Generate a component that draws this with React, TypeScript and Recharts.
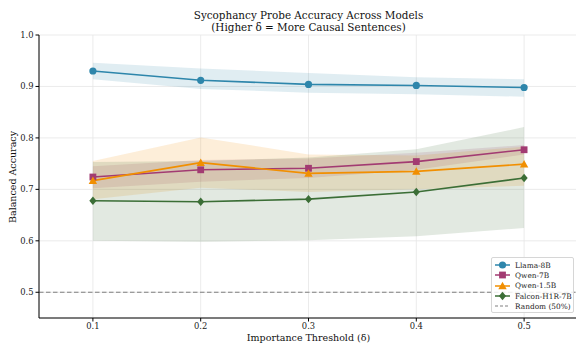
import React from 'react'
import {
  ComposedChart, Area, Line, XAxis, YAxis, CartesianGrid, ReferenceLine,
} from 'recharts'

const thresholds = [0.1, 0.2, 0.3, 0.4, 0.5]
const yTicks = [0.5, 0.6, 0.7, 0.8, 0.9, 1.0]

const llama = [0.930, 0.912, 0.904, 0.902, 0.898]
const llamaLo = [0.914, 0.895, 0.888, 0.885, 0.880]
const llamaHi = [0.946, 0.935, 0.926, 0.918, 0.914]

const qwen7 = [0.724, 0.738, 0.741, 0.754, 0.777]
const qwen7Lo = [0.702, 0.715, 0.722, 0.738, 0.768]
const qwen7Hi = [0.745, 0.757, 0.760, 0.771, 0.786]

const qwen15 = [0.717, 0.752, 0.731, 0.735, 0.749]
const qwen15Lo = [0.681, 0.703, 0.695, 0.700, 0.707]
const qwen15Hi = [0.755, 0.801, 0.768, 0.766, 0.783]

const falcon = [0.678, 0.676, 0.681, 0.695, 0.722]
const falconLo = [0.600, 0.598, 0.601, 0.609, 0.625]
const falconHi = [0.753, 0.755, 0.762, 0.778, 0.821]

const randomLevel = 0.5

type Shape = 'circle' | 'square' | 'triangle' | 'diamond'

const series: { key: string; name: string; color: string; shape: Shape }[] = [
  { key: 'llama', name: 'Llama-8B', color: '#2E86AB', shape: 'circle' },
  { key: 'qwen7', name: 'Qwen-7B', color: '#A23B72', shape: 'square' },
  { key: 'qwen15', name: 'Qwen-1.5B', color: '#F18F01', shape: 'triangle' },
  { key: 'falcon', name: 'Falcon-H1R-7B', color: '#3B6E36', shape: 'diamond' },
]

const data = thresholds.map((t, i) => ({
  t,
  llama: llama[i], llamaBand: [llamaLo[i], llamaHi[i]],
  qwen7: qwen7[i], qwen7Band: [qwen7Lo[i], qwen7Hi[i]],
  qwen15: qwen15[i], qwen15Band: [qwen15Lo[i], qwen15Hi[i]],
  falcon: falcon[i], falconBand: [falconLo[i], falconHi[i]],
}))

const FONT = '"DejaVu Serif", serif'

function Marker({ shape, cx, cy, color }: { shape: Shape; cx: number; cy: number; color: string }) {
  if (shape === 'circle') return <circle cx={cx} cy={cy} r={3.6} fill={color} />
  if (shape === 'square') return <rect x={cx - 3.4} y={cy - 3.4} width={6.8} height={6.8} fill={color} />
  if (shape === 'triangle') {
    const s = 4.2
    return <polygon points={`${cx},${cy - s} ${cx + s},${cy + s * 0.8} ${cx - s},${cy + s * 0.8}`} fill={color} />
  }
  const d = 4.2
  return <polygon points={`${cx},${cy - d} ${cx + d * 0.85},${cy} ${cx},${cy + d} ${cx - d * 0.85},${cy}`} fill={color} />
}

function LegendBox() {
  const rows = [...series.map(s => ({ ...s, dashed: false })), { key: 'rand', name: 'Random (50%)', color: '#808080', shape: 'circle' as Shape, dashed: true }]
  return (
    <div style={{
      position: 'absolute', left: 491, top: 257, width: 83, height: 56,
      border: '1px solid #d6d6d6', borderRadius: 2, background: 'rgba(255,255,255,0.85)',
      boxSizing: 'border-box', paddingTop: 2,
    }}>
      {rows.map(r => (
        <div key={r.key} style={{ display: 'flex', alignItems: 'center', height: 10.3 }}>
          <svg width={22} height={10} style={{ flex: 'none' }}>
            {r.dashed ? (
              <line x1={3} x2={18} y1={5} y2={5} stroke={r.color} strokeWidth={1.1} strokeDasharray="3 2" />
            ) : (
              <>
                <line x1={3} x2={18} y1={5} y2={5} stroke={r.color} strokeWidth={1.5} />
                <Marker shape={r.shape} cx={10.5} cy={5} color={r.color} />
              </>
            )}
          </svg>
          <span style={{ fontFamily: FONT, fontSize: 7.4, color: '#222', marginLeft: 1, whiteSpace: 'nowrap' }}>{r.name}</span>
        </div>
      ))}
    </div>
  )
}

export default function App() {
  const tickStyle = { fontSize: 8.4, fill: '#222', fontFamily: FONT }
  return (
    <div style={{
      position: 'absolute', left: 0, top: 0, width: 576, height: 344,
      overflow: 'hidden', background: '#fff', fontFamily: FONT,
    }}>
      <div style={{
        position: 'absolute', left: 39, width: 539, top: 9, textAlign: 'center',
        fontSize: 10.4, lineHeight: '12px', color: '#111',
      }}>
        Sycophancy Probe Accuracy Across Models<br />(Higher δ = More Causal Sentences)
      </div>

      <ComposedChart width={580} height={344} data={data} margin={{ top: 35, right: 2, bottom: 6, left: 0 }}>
        <CartesianGrid stroke="#e6e6e6" strokeWidth={0.8} />
        <XAxis
          type="number" dataKey="t" domain={[0.05, 0.55]} ticks={thresholds}
          allowDataOverflow height={20}
          tickFormatter={(v: number) => v.toFixed(1)}
          tick={tickStyle} tickSize={3.5} tickMargin={2}
          axisLine={{ stroke: '#000', strokeWidth: 1 }} tickLine={{ stroke: '#000' }}
        />
        <YAxis
          type="number" domain={[0.45, 1.0]} ticks={yTicks} allowDataOverflow width={39}
          tickFormatter={(v: number) => v.toFixed(1)}
          tick={tickStyle} tickSize={3.5} tickMargin={2}
          axisLine={{ stroke: '#000', strokeWidth: 1 }} tickLine={{ stroke: '#000' }}
        />
        {series.map(s => (
          <Area
            key={s.key + 'Band'} dataKey={s.key + 'Band'} type="linear"
            stroke="none" fill={s.color} fillOpacity={0.15}
            isAnimationActive={false} activeDot={false} dot={false}
          />
        ))}
        <ReferenceLine y={randomLevel} stroke="#808080" strokeWidth={1.1} strokeDasharray="4.5 2.5" />
        {series.map(s => (
          <Line
            key={s.key} dataKey={s.key} type="linear" stroke={s.color} strokeWidth={1.6}
            isAnimationActive={false} activeDot={false}
            dot={(p: any) => <Marker key={`${s.key}-${p.index}`} shape={s.shape} cx={p.cx} cy={p.cy} color={s.color} />}
          />
        ))}
      </ComposedChart>

      <div style={{
        position: 'absolute', left: 13 - 100, width: 200, top: 176.5 - 6, height: 12, lineHeight: '12px',
        textAlign: 'center', fontSize: 9.5, color: '#111', transform: 'rotate(-90deg)',
      }}>
        Balanced Accuracy
      </div>
      <div style={{
        position: 'absolute', left: 39, width: 539, top: 332, lineHeight: '12px',
        textAlign: 'center', fontSize: 9.5, color: '#111',
      }}>
        Importance Threshold (δ)
      </div>

      <LegendBox />
    </div>
  )
}
